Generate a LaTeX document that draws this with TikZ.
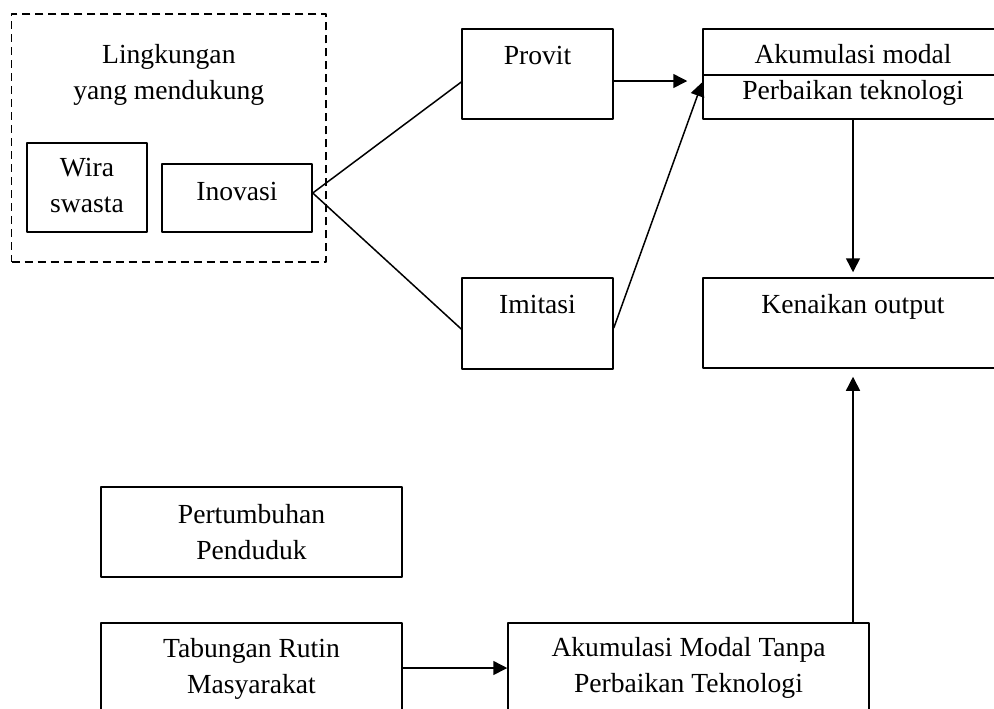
\documentclass[tikz,border=0pt]{standalone}
\usepackage{fontspec}
\setmainfont{Liberation Serif}
\usetikzlibrary{arrows.meta,fit,positioning}
\tikzset{
  kotak/.style={draw,inner sep=0pt},
  teks/.style={font=\fontsize{13.8}{18}\selectfont,align=center,inner sep=0pt,anchor=base},
}
\begin{document}
\begin{tikzpicture}[x=0.5pt,y=0.5pt,line width=0.75pt,line join=round,>={Triangle[length=7pt,width=7pt]}]
  \useasboundingbox (0,0) rectangle (994,-708);
  \clip (0,0) rectangle (994,-708);
  \def\kiri{462}\def\kanan{613}\def\xakum{703}\def\xakumr{1003}
  % kotak-kotak
  \node[kotak,dash pattern=on 4pt off 2.5pt,fit={(11.7,-14) (326,-262)}] (nlingk) {};
  \node[kotak,fit={(27,-143) (147,-232)}] (nwira) {};
  \node[kotak,fit={(162,-164) (312,-232)}] (ninov) {};
  \node[kotak,fit={(\kiri,-29) (\kanan,-119)}] (nprovit) {};
  \node[kotak,fit={(\kiri,-278) (\kanan,-369)}] (nimit) {};
  \node[kotak,fit={(\xakum,-29) (\xakumr,-75)}] (nakuma) {};
  \node[kotak,fit={(\xakum,-75) (\xakumr,-119)}] (nakumb) {};
  \node[kotak,fit={(\xakum,-278) (\xakumr,-368)}] (nnaik) {};
  \node[kotak,fit={(101,-487) (402,-577)}] (npend) {};
  \node[kotak,fit={(101,-623) (402,-713)}] (ntab) {};
  \node[kotak,fit={(508,-623) (869,-713)}] (ntanpa) {};
  % teks (dua baris: base = baris kedua)
  \node[teks] (tlingk) at ([yshift=-43pt]nlingk.north) {Lingkungan\\yang mendukung};
  \node[teks] (twira) at ([yshift=-35pt]nwira.north) {Wira\\swasta};
  \node[teks] (tinov) at ([yshift=-18.5pt]ninov.north) {Inovasi};
  \node[teks] (tprovit) at ([yshift=-18pt]nprovit.north) {Provit};
  \node[teks] (timit) at ([yshift=-18pt]nimit.north) {Imitasi};
  \node[teks] (takuma) at ([yshift=-17.5pt]nakuma.north) {Akumulasi modal};
  \node[teks] (takumb) at ([yshift=-12.5pt]nakumb.north) {Perbaikan teknologi};
  \node[teks] (tnaik) at ([yshift=-18pt]nnaik.north) {Kenaikan output};
  \node[teks] (tpend) at ([yshift=-36.5pt]npend.north) {Pertumbuhan\\Penduduk};
  \node[teks] (ttab) at ([yshift=-35.5pt]ntab.north) {Tabungan Rutin\\Masyarakat};
  \node[teks] (ttanpa) at ([yshift=-35pt]ntanpa.north) {Akumulasi Modal Tanpa\\Perbaikan Teknologi};
  % garis
  \coordinate (pkeluar) at ([yshift=-3.5pt]nprovit.east);
  \draw ([yshift=2.5pt]ninov.east)--([yshift=-4pt]nprovit.west);
  \draw ([yshift=2.5pt]ninov.east)--([yshift=-2.75pt]nimit.west);
  \draw[->] ([yshift=-2.25pt]nimit.east)--([yshift=-4pt]nakumb.north west);
  \draw[->,shorten >=7.5pt] (pkeluar)--(pkeluar -| nakumb.west);
  \draw[->,shorten >=2.5pt] (nakumb.south)--(nnaik.north);
  \draw[->,shorten >=4pt] (ntanpa.north -| nnaik.south)--(nnaik.south);
  \draw[->] (ntab.east)--(ntanpa.west);
\end{tikzpicture}
\end{document}
